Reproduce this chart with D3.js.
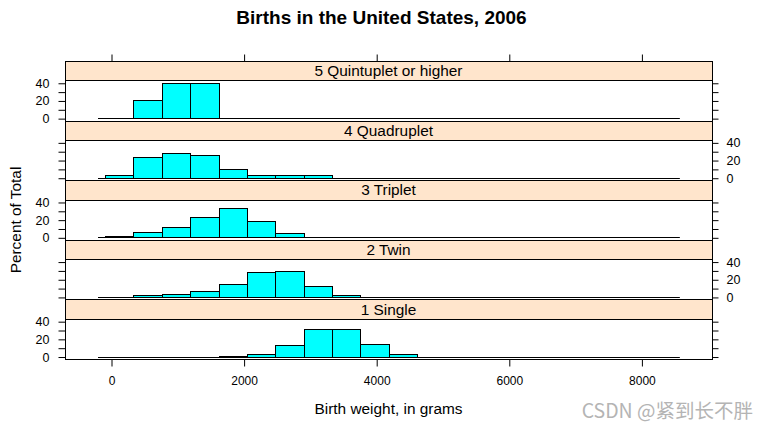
<!DOCTYPE html>
<html>
<head>
<meta charset="utf-8">
<script src="https://cdn.jsdelivr.net/npm/d3@7"></script>
<style>
  html, body { margin: 0; padding: 0; background: #fff; }
  svg { display: block; font-family: "Liberation Sans", Arial, sans-serif; }
</style>
</head>
<body>
<svg id="chart" width="765" height="430"></svg>
<script>
// ---------------- data ----------------
const categories = ["5 Quintuplet or higher", "4 Quadruplet", "3 Triplet", "2 Twin", "1 Single"];
const breaks = [-90, 338, 766, 1194, 1622, 2050, 2478, 2906, 3334, 3762, 4190,
                4618, 5046, 5474, 5902, 6330, 6758, 7186, 7614, 8042, 8470];
const baselineRange = [-196, 8580];
const quintuplet = [0, 20, 40, 40, 0, 0, 0, 0, 0, 0, 0, 0, 0, 0, 0, 0, 0, 0, 0, 0];
const quadruplet = [3.4, 23.6, 28.1, 25.8, 10.1, 3.4, 3.4, 3.4, 0, 0, 0, 0, 0, 0, 0, 0, 0, 0, 0, 0];
const triplet    = [1.2, 6.0, 11.6, 23.0, 33.2, 18.6, 4.8, 0, 0, 0, 0, 0, 0, 0, 0, 0, 0, 0, 0, 0];
const twin       = [0, 2.3, 3.5, 6.8, 14.8, 28.0, 29.8, 12.0, 2.2, 0, 0, 0, 0, 0, 0, 0, 0, 0, 0, 0];
const single     = [0, 0, 0, 0, 0.8, 3.1, 13.6, 30.8, 30.8, 14.0, 2.6, 0, 0, 0, 0, 0, 0, 0, 0, 0];
const seriesList = [quintuplet, quadruplet, triplet, twin, single];
const xTicks = [0, 2000, 4000, 6000, 8000];
const yTicks = [0, 10, 20, 30, 40];
const yTickLabels = [0, 20, 40];

(function () {
// ---------------- layout ----------------
const svg = d3.select("#chart");
const pL = 65, pR = 712, pT = 61, pB = 359;
const stripH = 19.3;
const nRows = categories.length;
const blockH = (pB - pT) / nRows;

const x = d3.scaleLinear().domain([-694, 9065]).range([pL, pR]);
const rowTop = i => pT + i * blockH;

const FONT = '"Liberation Sans", Arial, sans-serif';

// title
svg.append("text")
  .attr("x", 381.5).attr("y", 24)
  .attr("text-anchor", "middle")
  .style("font-family", FONT).style("font-weight", "bold").style("font-size", "19px")
  .text("Births in the United States, 2006");

categories.forEach((cat, i) => {
  const t = rowTop(i);
  const sTop = t + stripH, sBot = t + blockH;
  const y = d3.scaleLinear().domain([-2.8, 42.8]).range([sBot, sTop]);
  const g = svg.append("g");

  // strip
  g.append("rect")
    .attr("x", pL + 0.5).attr("y", Math.round(t) + 0.5)
    .attr("width", pR - pL).attr("height", Math.round(sTop) - Math.round(t))
    .attr("fill", "#ffe5cc").attr("stroke", "#000").attr("stroke-width", 1);
  g.append("text")
    .attr("x", (pL + pR) / 2).attr("y", t + stripH / 2 + 5.5)
    .attr("text-anchor", "middle")
    .style("font-family", FONT).style("font-size", "15.4px")
    .text(cat);

  // panel frame
  g.append("rect")
    .attr("x", pL + 0.5).attr("y", Math.round(sTop) + 0.5)
    .attr("width", pR - pL).attr("height", Math.round(sBot) - Math.round(sTop))
    .attr("fill", "#fff").attr("stroke", "#000").attr("stroke-width", 1);

  // baseline
  const y0 = Math.round(y(0)) + 0.5;
  g.append("line")
    .attr("x1", x(baselineRange[0])).attr("x2", x(baselineRange[1]))
    .attr("y1", y0).attr("y2", y0)
    .attr("stroke", "#000").attr("stroke-width", 1);

  // bars
  const data = seriesList[i].map((v, k) => ({ v, x0: breaks[k], x1: breaks[k + 1] })).filter(d => d.v > 0);
  g.selectAll("rect.bar").data(data).enter().append("rect")
    .attr("class", "bar")
    .attr("x", d => Math.round(x(d.x0)) + 0.5)
    .attr("width", d => Math.round(x(d.x1)) - Math.round(x(d.x0)))
    .attr("y", d => Math.round(y(d.v)) + 0.5)
    .attr("height", d => Math.max(1, Math.round(y(0)) - Math.round(y(d.v))))
    .attr("fill", "#00ffff").attr("stroke", "#000").attr("stroke-width", 1);

  // y axes
  const showLeft = i % 2 === 0;
  const fmt = d => yTickLabels.includes(d) ? d : "";
  const la = g.append("g").attr("transform", `translate(${pL + 0.5},0.5)`)
    .call(d3.axisLeft(y).tickValues(yTicks).tickSize(7).tickPadding(9)
      .tickFormat(showLeft ? fmt : () => ""));
  const ra = g.append("g").attr("transform", `translate(${pR + 0.5},0.5)`)
    .call(d3.axisRight(y).tickValues(yTicks).tickSize(6).tickPadding(8)
      .tickFormat(!showLeft ? fmt : () => ""));
  [la, ra].forEach(a => {
    a.select(".domain").remove();
    a.selectAll("text").style("font-family", FONT).style("font-size", "12.5px").attr("fill", "#000");
    a.selectAll("line").attr("stroke", "#000");
  });
});

// top & bottom x axes
const ta = svg.append("g").attr("transform", `translate(0.5,${pT + 0.5})`)
  .call(d3.axisTop(x).tickValues(xTicks).tickSize(7).tickFormat(() => ""));
const ba = svg.append("g").attr("transform", `translate(0.5,${pB + 0.5})`)
  .call(d3.axisBottom(x).tickValues(xTicks).tickSize(7).tickPadding(10).tickFormat(d3.format("d")));
[ta, ba].forEach(a => {
  a.select(".domain").remove();
  a.selectAll("text").style("font-family", FONT).style("font-size", "12px").attr("fill", "#000");
  a.selectAll("line").attr("stroke", "#000");
});

// axis titles
svg.append("text")
  .attr("x", (pL + pR) / 2).attr("y", 414)
  .attr("text-anchor", "middle")
  .style("font-family", FONT).style("font-size", "15.4px")
  .text("Birth weight, in grams");
svg.append("text")
  .attr("transform", `translate(21,220) rotate(-90)`)
  .attr("text-anchor", "middle")
  .style("font-family", FONT).style("font-size", "15.4px")
  .text("Percent of Total");

// watermark
svg.append("text")
  .attr("x", 753).attr("y", 418)
  .attr("text-anchor", "end")
  .style("font-family", '"Noto Sans CJK SC", "Noto Sans", sans-serif').style("font-size", "19.5px")
  .attr("fill", "#b4b4b4")
  .text("CSDN @紧到长不胖");
})();
</script>
</body>
</html>
